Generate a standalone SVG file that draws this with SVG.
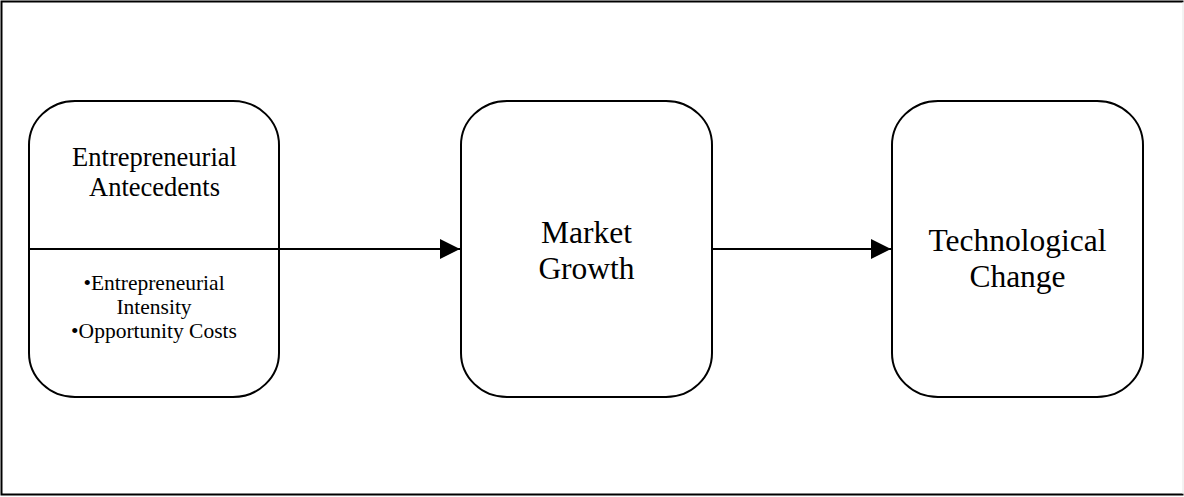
<svg xmlns="http://www.w3.org/2000/svg" width="1184" height="497" viewBox="0 0 1184 497">
<style>
.box{fill:#fff;stroke:#000;stroke-width:2}
.conn{stroke:#000;stroke-width:2;fill:none}
.frame{stroke:#000;stroke-width:2;fill:none}
text{font-family:"Liberation Serif","Times New Roman",serif;fill:#000;text-anchor:middle}
.big{font-size:31.5px}
.mid{font-size:26.5px}
.small{font-size:21.5px}
</style>
<defs>
<marker id="arr" markerUnits="userSpaceOnUse" markerWidth="22" markerHeight="22" refX="20" refY="10" orient="auto">
<path d="M0,0 L20,10 L0,20 Z" fill="#000"/>
</marker>
</defs>
<rect x="0" y="0" width="1184" height="497" fill="#fff"/>
<path class="frame" d="M1183.5,1.5 H1.5 V494.5 H1183.5"/>
<line x1="1183" y1="2" x2="1183" y2="494" stroke="#e6e6e6" stroke-width="1"/>
<g id="node-antecedents">
<rect class="box" x="29" y="101" width="250" height="296" rx="46" ry="44"/>
<line x1="29" y1="249" x2="279" y2="249" stroke="#000" stroke-width="2"/>
<text class="mid" x="154.5" y="166">Entrepreneurial</text>
<text class="mid" x="154.5" y="196">Antecedents</text>
<text class="small" x="154" y="290">•Entrepreneurial</text>
<text class="small" x="154" y="314">Intensity</text>
<text class="small" x="154" y="338">•Opportunity Costs</text>
</g>
<g id="node-market">
<rect class="box" x="461" y="101" width="251" height="296" rx="46" ry="44"/>
<text class="big" x="586.5" y="243">Market</text>
<text class="big" x="586.5" y="279">Growth</text>
</g>
<g id="node-tech">
<rect class="box" x="892" y="101" width="251" height="296" rx="46" ry="44"/>
<text class="big" x="1017.5" y="251">Technological</text>
<text class="big" x="1017.5" y="287">Change</text>
</g>
<g id="connectors">
<line class="conn" x1="279" y1="249" x2="460" y2="249" marker-end="url(#arr)"/>
<line class="conn" x1="712" y1="249" x2="891" y2="249" marker-end="url(#arr)"/>
</g>
</svg>
